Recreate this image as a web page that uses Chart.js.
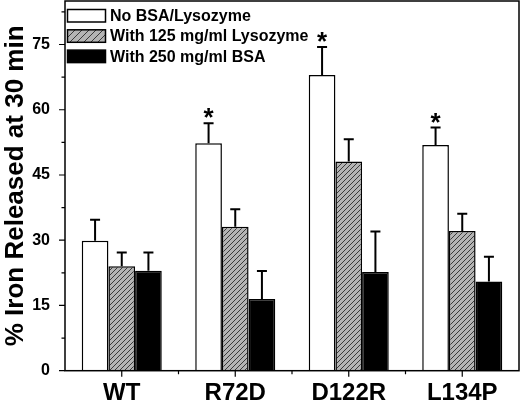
<!DOCTYPE html>
<html>
<head>
<meta charset="utf-8">
<script src="https://cdn.jsdelivr.net/npm/chart.js@4/dist/chart.umd.min.js"></script>
<style>
html,body{margin:0;padding:0;background:#fff;}
#c{display:block;}
</style>
</head>
<body>
<canvas id="c" width="520" height="404"></canvas>
<script>
const categories = ['WT', 'R72D', 'D122R', 'L134P'];
const seriesLabels = ['No BSA/Lysozyme', 'With 125 mg/ml Lysozyme', 'With 250 mg/ml BSA'];
const noBsa = [29.9, 52.3, 68.0, 51.9];
const noBsaErr = [4.8, 4.6, 6.4, 4.0];
const lysozyme = [24.0, 33.1, 48.1, 32.1];
const lysozymeErr = [3.2, 4.0, 5.1, 4.0];
const bsa = [23.0, 16.5, 22.7, 20.5];
const bsaErr = [4.2, 6.4, 9.3, 5.7];
const significant = [false, true, true, true];
const yMajorTicks = [0, 15, 30, 45, 60, 75];
const yMinorTicks = [7.5, 22.5, 37.5, 52.5, 67.5, 82.5];

const FONT = '"Liberation Sans", Arial, sans-serif';

function makeHatch(size, bg, fg) {
  const c = document.createElement('canvas');
  c.width = size; c.height = size;
  const g = c.getContext('2d');
  g.fillStyle = bg; g.fillRect(0, 0, size, size);
  g.strokeStyle = fg; g.lineWidth = 1;
  g.beginPath();
  g.moveTo(-1, size + 1); g.lineTo(size + 1, -1);
  g.moveTo(-1, 1); g.lineTo(1, -1);
  g.moveTo(size - 1, size + 1); g.lineTo(size + 1, size - 1);
  g.stroke();
  return document.getElementById('c').getContext('2d').createPattern(c, 'repeat');
}
const hatch = makeHatch(5, '#b4b4b4', '#3a3a3a');
const hatchLegend = makeHatch(7, '#b4b4b4', '#3a3a3a');

const errs = [noBsaErr, lysozymeErr, bsaErr];
const fills = ['#ffffff', hatch, '#000000'];
const legendFills = ['#ffffff', hatchLegend, '#000000'];

function zeroPad(s) { s.paddingTop = 0; s.paddingBottom = 0; s.paddingLeft = 0; s.paddingRight = 0; }

const extras = {
  id: 'extras',
  afterDatasetsDraw(chart) {
    const ctx = chart.ctx;
    const ys = chart.scales.y;
    const ca = chart.chartArea;
    ctx.save();
    // error bars
    ctx.strokeStyle = '#000';
    ctx.lineWidth = 2;
    chart.data.datasets.forEach((ds, di) => {
      const meta = chart.getDatasetMeta(di);
      meta.data.forEach((bar, i) => {
        const top = ys.getPixelForValue(ds.data[i] + errs[di][i]);
        ctx.beginPath();
        ctx.moveTo(bar.x, bar.y);
        ctx.lineTo(bar.x, top);
        ctx.moveTo(bar.x - 5, top);
        ctx.lineTo(bar.x + 5, top);
        ctx.stroke();
        if (di === 0 && significant[i]) {
          ctx.fillStyle = '#000';
          ctx.font = 'bold 26px ' + FONT;
          ctx.textAlign = 'center';
          ctx.textBaseline = 'alphabetic';
          ctx.fillText('*', bar.x, top + 3);
        }
      });
    });
    // frame
    ctx.lineWidth = 1.5;
    ctx.strokeStyle = '#000';
    ctx.strokeRect(ca.left, ca.top, ca.right - ca.left, ca.bottom - ca.top);
    // y ticks
    ctx.lineWidth = 1.2;
    ctx.beginPath();
    yMajorTicks.forEach(v => { const p = ys.getPixelForValue(v); ctx.moveTo(ca.left - 6, p); ctx.lineTo(ca.left, p); });
    yMinorTicks.forEach(v => { const p = ys.getPixelForValue(v); ctx.moveTo(ca.left - 3.5, p); ctx.lineTo(ca.left, p); });
    // x ticks
    const xs = chart.scales.x;
    const step = (ca.right - ca.left) / categories.length;
    categories.forEach((c, i) => {
      const p = xs.getPixelForValue(i);
      ctx.moveTo(p, ca.bottom); ctx.lineTo(p, ca.bottom + 6);
      if (i > 0) { const q = ca.left + step * i; ctx.moveTo(q, ca.bottom); ctx.lineTo(q, ca.bottom + 3.5); }
    });
    ctx.stroke();
    // legend
    ctx.font = 'bold 16px ' + FONT;
    ctx.textAlign = 'left';
    ctx.textBaseline = 'middle';
    seriesLabels.forEach((lab, i) => {
      const y = 9.5 + i * 20.3;
      ctx.fillStyle = legendFills[i];
      ctx.fillRect(67.5, y, 38, 12.5);
      ctx.lineWidth = 1.5;
      ctx.strokeStyle = '#000';
      ctx.strokeRect(67.5, y, 38, 12.5);
      ctx.fillStyle = '#000';
      ctx.fillText(lab, 110, y + 7);
    });
    ctx.restore();
  }
};

new Chart(document.getElementById('c'), {
  type: 'bar',
  data: {
    labels: categories,
    datasets: [
      { label: seriesLabels[0], data: noBsa, backgroundColor: fills[0], borderColor: '#000', borderWidth: 1.5 },
      { label: seriesLabels[1], data: lysozyme, backgroundColor: fills[1], borderColor: '#000', borderWidth: 1.5 },
      { label: seriesLabels[2], data: bsa, backgroundColor: fills[2], borderColor: '#000', borderWidth: 1.5 }
    ]
  },
  options: {
    responsive: false,
    devicePixelRatio: 1,
    animation: false,
    layout: { autoPadding: false, padding: { top: 1, right: 1, left: 0, bottom: 0 } },
    datasets: { bar: { categoryPercentage: 0.705, barPercentage: 1.0 } },
    plugins: { legend: { display: false }, tooltip: { enabled: false } },
    scales: {
      x: {
        grid: { display: false, drawTicks: false },
        border: { display: false },
        ticks: { color: '#000', font: { family: FONT, size: 24, weight: 'bold' }, padding: 8 },
        afterFit(s) { s.height = 33.3; zeroPad(s); }
      },
      y: {
        min: 0, max: 85,
        grid: { display: false, drawTicks: false },
        border: { display: false },
        afterBuildTicks(s) { s.ticks = yMajorTicks.map(v => ({ value: v })); },
        ticks: {
          color: '#000',
          font: { family: FONT, size: 16, weight: 'bold' },
          padding: 15
        },
        title: { display: true, text: '% Iron Released at 30 min', color: '#000', font: { family: FONT, size: 26, weight: 'bold' }, padding: 0 },
        afterFit(s) { s.width = 65; zeroPad(s); }
      }
    }
  },
  plugins: [extras]
});
</script>
</body>
</html>
